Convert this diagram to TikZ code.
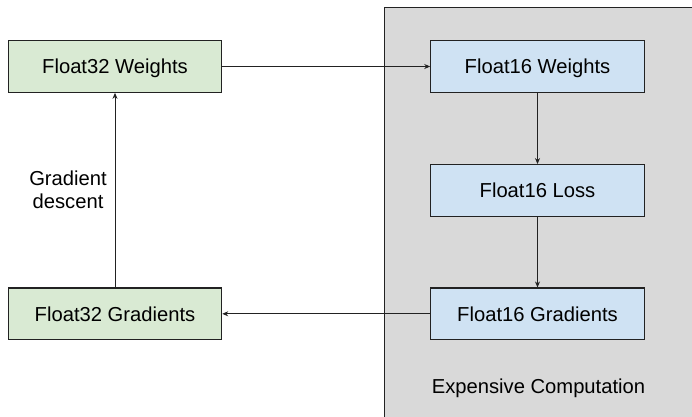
\documentclass[tikz,border=0pt]{standalone}
\usepackage{fontspec}
\setmainfont{Liberation Sans}
\usetikzlibrary{arrows.meta}
\definecolor{fpgreen}{HTML}{D9EAD3}
\definecolor{fpblue}{HTML}{CFE2F3}
\definecolor{panelgray}{HTML}{D9D9D9}
\definecolor{edgegray}{HTML}{222222}

\begin{document}
\begin{tikzpicture}[x=1pt,y=-1pt]
\tikzset{labeltext/.style = {font=\fontsize{20.2}{23.2}\selectfont},
  box/.style = {labeltext, draw=edgegray, line width=1.1pt, minimum width=213.4pt, minimum height=51.6pt, inner sep=0pt, text height=14.6pt, text depth=0pt},
  fthirtytwo/.style = {box, fill=fpgreen},
  fsixteen/.style = {box, fill=fpblue},
  flow/.style = {draw=edgegray, line width=0.9pt, -{Stealth[length=6pt,width=5pt]}}}
\def\leftx{115}
\def\rightx{537.5}

\useasboundingbox (0,0) rectangle (692,416);
\begin{scope}
\clip (0,0) rectangle (692,416);
\draw[draw=edgegray, line width=1.1pt, fill=panelgray] (384.7,7.3) rectangle (720,440);
\end{scope}

\node[fthirtytwo] (w32) at (\leftx,66.5) {Float32 Weights};
\node[fthirtytwo] (g32) at (\leftx,313.8) {Float32 Gradients};
\node[fsixteen] (w16) at (\rightx,66.5) {Float16 Weights};
\node[fsixteen] (loss16) at (\rightx,190.4) {Float16 Loss};
\node[fsixteen] (g16) at (\rightx,313.8) {Float16 Gradients};

\node[labeltext, align=center] (descent) at (68,190) {Gradient\\descent};
\node[labeltext, anchor=base] (expensive) at (538.5,393.3) {Expensive Computation};

\draw[flow] (w32) -- (w16);
\draw[flow] (w16) -- (loss16);
\draw[flow] (loss16) -- (g16);
\draw[flow] (g16) -- (g32);
\draw[flow] (g32) -- (w32);
\end{tikzpicture}
\end{document}
